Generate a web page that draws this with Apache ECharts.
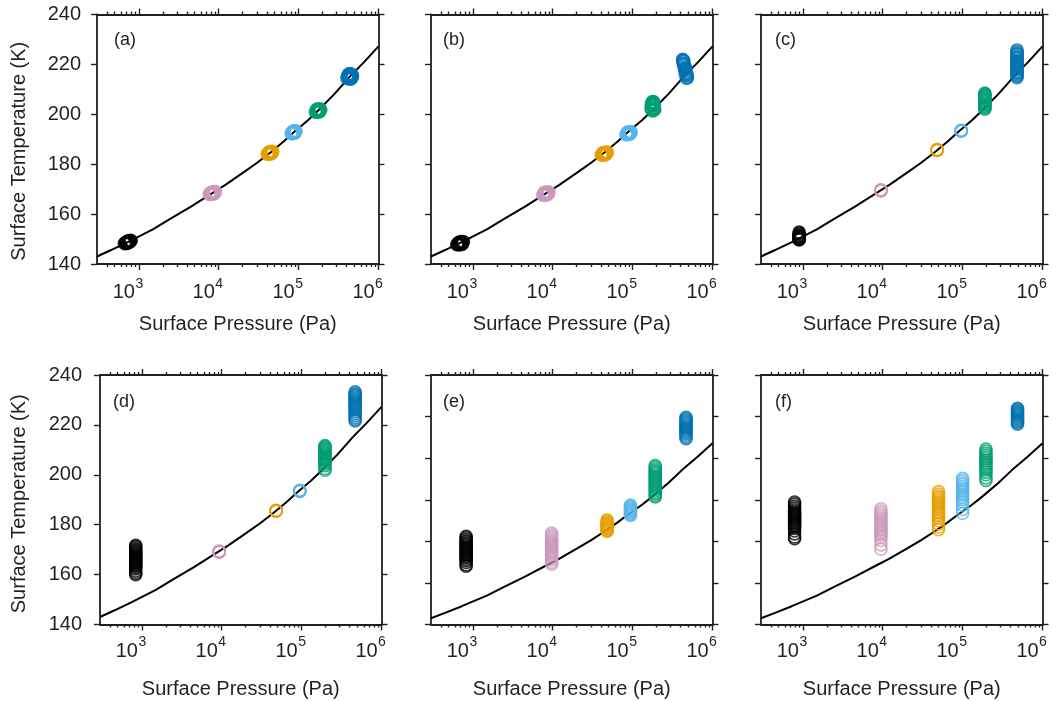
<!DOCTYPE html>
<html>
<head>
<meta charset="utf-8">
<script src="https://cdn.jsdelivr.net/npm/echarts@6/dist/echarts.min.js"></script>
<style>
  html, body { margin: 0; padding: 0; background: #ffffff; }
  #chart { width: 1056px; height: 701px; }
</style>
</head>
<body>
<div id="chart"></div>
<script>
// ---- data -----------------------------------------------------------------
const panelLabels = ['(a)', '(b)', '(c)', '(d)', '(e)', '(f)'];
const clusterColors = ['#000000', '#CC99BB', '#E69F00', '#56B4E9', '#009E73', '#0072B2'];

const pressureMin = 300;
const pressureMax = 1e6;
const majorPressureTicks = [1e3, 1e4, 1e5, 1e6];
const minorPressureTicks = [
  400, 500, 600, 700, 800, 900,
  2e3, 3e3, 4e3, 5e3, 6e3, 7e3, 8e3, 9e3,
  2e4, 3e4, 4e4, 5e4, 6e4, 7e4, 8e4, 9e4,
  2e5, 3e5, 4e5, 5e5, 6e5, 7e5, 8e5, 9e5
];
const temperatureMin = 140;
const temperatureMax = [240, 240, 240, 240, 260, 260];
const temperatureStep = 20;

// reference curve: surface temperature against surface pressure
const curvePressure = [300, 450, 728, 1500, 2500, 4500, 8400, 12000, 20000, 30000, 44000, 65000,
                       87000, 130000, 176000, 280000, 440000, 650000, 1000000];
const curveTemperature = [143.0, 145.6, 148.8, 153.9, 158.2, 163.0, 168.5, 171.6, 176.5, 180.5, 184.6, 189.1,
                          192.8, 197.5, 201.5, 208.1, 215.2, 220.7, 227.2];

// (a) six clusters, each point has its own pressure
const aPressure = [
  [660, 675, 690, 700, 710, 720, 730, 740, 750, 760, 775, 790, 805, 700, 745, 725, 690, 770],
  [7600, 7750, 7900, 8050, 8200, 8350, 8500, 8650, 8800, 8950, 9100, 8100, 8400, 8700, 7900, 8900],
  [40500, 41200, 42000, 42800, 43600, 44400, 45200, 46000, 46800, 47500, 42500, 44000, 45500, 43000, 46000, 44800],
  [80500, 81800, 83200, 84600, 86000, 87400, 88800, 90200, 91600, 93000, 84000, 87000, 90000, 86000, 89500, 82500],
  [162000, 165500, 169000, 172500, 176000, 179500, 183000, 186500, 190000, 170000, 176000, 182000, 174000, 180000, 167000, 185000],
  [402000, 410000, 418000, 426000, 434000, 442000, 450000, 458000, 466000, 474000, 420000, 440000, 460000, 430000, 450000, 415000, 470000, 445000]
];
const aTemperature = [
  [148.2, 148.5, 148.1, 148.8, 148.4, 149.0, 148.6, 149.2, 148.7, 149.3, 148.9, 149.5, 149.3, 148.3, 148.4, 149.2, 148.7, 149.0],
  [167.9, 168.3, 167.9, 168.6, 168.2, 168.8, 168.3, 168.9, 168.5, 169.0, 168.9, 168.0, 168.1, 169.0, 168.5, 168.2],
  [184.0, 184.4, 184.0, 184.6, 184.2, 184.8, 184.4, 185.0, 184.7, 185.2, 184.9, 185.1, 184.1, 184.2, 184.4, 184.3],
  [192.2, 192.6, 192.2, 192.9, 192.5, 193.1, 192.7, 193.3, 193.0, 193.4, 193.1, 193.4, 192.4, 192.3, 192.5, 192.8],
  [200.8, 201.2, 200.8, 201.5, 201.1, 201.7, 201.3, 201.9, 201.8, 202.0, 202.2, 200.9, 200.9, 201.0, 201.9, 202.2],
  [214.4, 215.2, 214.3, 215.6, 214.6, 216.0, 214.8, 215.7, 214.6, 215.3, 216.1, 216.3, 215.9, 214.2, 214.1, 215.5, 215.8, 216.2]
];

// (b)
const bPressure = [
  [630, 645, 660, 675, 690, 705, 720, 735, 750, 765, 660, 700, 740, 680, 720, 700],
  [7500, 7650, 7800, 7950, 8100, 8250, 8400, 8550, 8700, 8850, 9000, 8000, 8300, 8600, 7800, 8800],
  [40500, 41300, 42100, 42900, 43700, 44500, 45300, 46100, 46900, 47700, 48400, 43000, 44500, 46000, 42000, 47000],
  [82500, 84000, 85500, 87000, 88500, 90000, 91500, 93000, 94500, 96000, 86000, 89000, 92000, 85000, 95000, 89500],
  [170000, 174000, 178000, 182000, 186000, 190000, 172000, 176000, 180000, 184000, 188000, 171000, 179000, 187000, 175000, 183000, 180000, 173000, 185000],
  [422000, 428000, 434000, 440000, 446000, 452000, 458000, 464000, 470000, 476000, 482000, 488000, 440000, 430000, 470000, 455000, 480000, 425000, 445000, 465000]
];
const bTemperature = [
  [147.7, 148.1, 147.8, 148.4, 148.0, 148.6, 148.2, 148.8, 148.5, 149.0, 148.6, 149.0, 147.9, 147.6, 147.8, 148.3],
  [167.6, 168.0, 167.6, 168.3, 167.9, 168.5, 168.1, 168.7, 168.3, 168.9, 168.7, 168.8, 167.7, 167.8, 168.6, 168.1],
  [183.6, 184.0, 183.6, 184.3, 183.9, 184.5, 184.1, 184.7, 184.3, 184.9, 184.8, 184.8, 183.7, 183.8, 184.5, 184.1],
  [191.8, 192.3, 191.8, 192.5, 192.1, 192.7, 192.3, 192.9, 192.5, 193.0, 192.9, 193.0, 191.9, 192.0, 192.6, 192.4],
  [202.5, 203.8, 204.8, 204.0, 202.6, 201.8, 201.8, 205.0, 205.1, 205.0, 203.6, 203.5, 201.3, 202.3, 201.5, 204.5, 203.2, 204.4, 201.9],
  [221.8, 221.2, 220.5, 219.9, 219.2, 218.6, 217.9, 217.3, 216.7, 216.0, 215.3, 214.6, 221.4, 220.1, 214.5, 216.2, 215.7, 222.0, 218.0, 218.4]
];

// (c) one pressure per cluster
const cPressure = [900, 9500, 48000, 96000, 190000, 480000];
const cTemperature = [
  [149.6, 149.8, 150.0, 150.2, 150.4, 150.6, 150.8, 151.0, 151.3, 151.6, 152.0, 152.4, 152.8],
  [169.3, 169.4, 169.5, 169.6, 169.7],
  [185.5, 185.6, 185.7, 185.8, 185.9],
  [193.2, 193.3, 193.4, 193.5, 193.6],
  [202.0, 202.3, 202.8, 203.1, 203.6, 203.9, 204.3, 204.8, 205.1, 205.6, 205.9, 206.4, 206.7, 207.2, 207.5, 207.9, 208.2, 208.5],
  [214.7, 215.3, 215.7, 216.3, 216.7, 217.1, 217.8, 218.2, 218.7, 219.3, 219.7, 220.1, 220.8, 221.2, 221.6, 222.3, 222.7, 223.1, 223.8, 224.2, 224.6, 225.2, 225.8]
];

// (d)
const dPressure = [840, 9300, 48000, 95000, 196000, 468000];
const dTemperature = [
  [160.0, 160.6, 161.4, 162.3, 162.9, 163.4, 163.8, 164.2, 164.7, 165.1, 165.4, 165.9, 166.3, 166.6, 167.1, 167.5, 167.8, 168.3, 168.7, 169.1, 169.6, 170.0, 170.6, 171.2, 171.7],
  [169.0, 169.1, 169.2, 169.3, 169.4],
  [185.4, 185.5, 185.6, 185.7, 185.8],
  [193.3, 193.4, 193.5, 193.7, 193.8],
  [201.8, 202.5, 203.6, 204.3, 204.8, 205.4, 205.9, 206.3, 206.8, 207.2, 207.7, 208.1, 208.6, 209.0, 209.5, 209.9, 210.4, 210.8, 211.3, 211.7],
  [221.6, 222.2, 222.9, 223.7, 224.5, 225.3, 226.0, 226.6, 227.1, 227.6, 228.0, 228.5, 229.0, 229.4, 229.9, 230.3, 230.8, 231.3, 231.7, 232.2, 232.7, 233.3]
];

// (e)
const ePressure = [826, 9700, 48000, 94000, 192000, 466000];
const eTemperature = [
  [168.0, 168.7, 169.9, 170.8, 171.4, 172.1, 172.6, 173.2, 173.7, 174.3, 174.8, 175.3, 175.9, 176.4, 177.0, 177.5, 178.1, 178.6, 179.2, 179.8, 180.3, 181.0, 181.7, 182.4],
  [169.0, 169.9, 171.1, 172.0, 172.9, 173.6, 174.3, 175.0, 175.6, 176.3, 176.9, 177.6, 178.2, 178.9, 179.5, 180.2, 180.9, 181.6, 182.4, 183.2, 184.0],
  [184.7, 185.2, 185.7, 186.1, 186.6, 187.0, 187.5, 187.9, 188.4, 188.8, 189.3, 189.8, 190.4],
  [192.4, 192.8, 193.3, 193.7, 194.2, 194.6, 195.1, 195.5, 196.0, 196.5, 197.0, 197.5],
  [201.3, 202.0, 202.8, 203.5, 204.2, 204.9, 205.6, 206.3, 207.0, 207.7, 208.4, 209.1, 209.8, 210.5, 211.2, 211.9, 212.6, 213.3, 214.0, 214.8, 215.6, 216.4],
  [229.4, 230.1, 231.0, 231.8, 232.5, 233.1, 233.7, 234.3, 234.9, 235.5, 236.1, 236.7, 237.3, 237.9, 238.5, 239.1, 239.7]
];

// (f)
const fPressure = [790, 9500, 50000, 100000, 196000, 487000];
const fTemperature = [
  [181.3, 182.1, 183.6, 185.0, 186.2, 187.0, 187.7, 188.3, 188.9, 189.5, 190.1, 190.7, 191.3, 191.9, 192.5, 193.1, 193.7, 194.4, 195.2, 196.1, 197.0, 198.0, 198.9],
  [176.2, 178.3, 180.4, 181.8, 182.9, 183.8, 184.6, 185.4, 186.2, 187.0, 187.8, 188.6, 189.4, 190.2, 191.0, 191.8, 192.7, 193.6, 194.6, 195.7],
  [185.6, 186.9, 188.4, 189.9, 191.1, 192.1, 193.0, 193.8, 194.6, 195.4, 196.2, 197.0, 197.8, 198.6, 199.4, 200.2, 201.0, 201.8, 202.8, 203.9],
  [193.5, 195.3, 197.4, 198.9, 200.0, 201.0, 201.9, 202.8, 203.7, 204.6, 205.5, 206.4, 207.3, 208.2, 209.2, 210.3],
  [209.3, 210.5, 212.1, 213.3, 214.3, 215.2, 216.1, 217.0, 217.9, 218.8, 219.7, 220.6, 221.5, 222.4, 223.4, 224.4],
  [236.3, 236.9, 237.4, 238.0, 238.5, 239.1, 239.6, 240.2, 240.7, 241.3, 241.8, 242.4, 242.9, 243.5, 244.0]
];

const panelPressure = [aPressure, bPressure, cPressure, dPressure, ePressure, fPressure];
const panelTemperature = [aTemperature, bTemperature, cTemperature, dTemperature, eTemperature, fTemperature];

// ---- layout & style --------------------------------------------------------
const FONT = '"Liberation Sans", Arial, Helvetica, sans-serif';
const INK = '#231f20';
const AXIS_W = 1.8;

const gridBoxes = [
  { left: 97,  top: 14.5 }, { left: 431, top: 14.5 }, { left: 761, top: 14.5 },
  { left: 100, top: 375 },  { left: 431, top: 375 },  { left: 761, top: 375 }
];
const labelBoxes = [
  { x: 114, y: 31 }, { x: 443, y: 31 }, { x: 775, y: 31 },
  { x: 113, y: 393 }, { x: 443, y: 393 }, { x: 775, y: 393 }
];

const grid = gridBoxes.map(g => ({ left: g.left, top: g.top, width: 281.5, height: 249.5 }));

// label roles for the stacked bottom axes: the base "10" and its exponent
function baseLabel(i) {
  return {
    show: true,
    customValues: majorPressureTicks,
    margin: i < 3 ? 18 : 17,
    padding: [0, 30, 0, 0],
    formatter: () => '10',
    fontSize: 20, fontFamily: FONT, color: INK
  };
}
function exponentLabel(i) {
  return {
    show: true,
    customValues: majorPressureTicks,
    margin: i < 3 ? 13 : 11,
    padding: [0, 0, 0, 1],
    formatter: v => String(Math.round(Math.log10(v))),
    fontSize: 14, fontFamily: FONT, color: INK
  };
}

function pressureAxis(i, position, ticks, tickLen, withLine, label, withName) {
  return {
    gridIndex: i,
    type: 'log',
    logBase: 10,
    min: pressureMin,
    max: pressureMax,
    position: position,
    splitLine: { show: false },
    axisLine: { show: withLine, onZero: false, lineStyle: { color: INK, width: AXIS_W } },
    axisTick: { show: true, inside: false, length: tickLen, customValues: ticks,
                lineStyle: { color: INK, width: 1.4 } },
    axisLabel: label || { show: false },
    name: withName ? 'Surface Pressure (Pa)' : '',
    nameLocation: 'middle',
    nameGap: i < 3 ? 50 : 55,
    nameTextStyle: { fontSize: 20, fontFamily: FONT, color: INK }
  };
}

function temperatureAxis(i, position, withLabel) {
  return {
    gridIndex: i,
    type: 'value',
    min: temperatureMin,
    max: temperatureMax[i],
    interval: temperatureStep,
    position: position,
    splitLine: { show: false },
    axisLine: { show: true, onZero: false, lineStyle: { color: INK, width: AXIS_W } },
    axisTick: { show: true, inside: false, length: 6, lineStyle: { color: INK, width: 1.4 } },
    axisLabel: { show: withLabel, margin: i < 3 ? 16 : 18, fontSize: 20, fontFamily: FONT, color: INK },
    name: withLabel ? 'Surface Temperature (K)' : '',
    nameLocation: 'middle',
    nameRotate: 90,
    nameGap: i < 3 ? 68 : 71,
    nameTextStyle: { fontSize: 20, fontFamily: FONT, color: INK,
                     padding: i < 3 ? [0, 24, 0, 0] : [0, 8, 0, 0] }
  };
}

const xAxis = [];
const yAxis = [];
const series = [];
const graphic = [];

for (let i = 0; i < 6; i++) {
  // bottom frame edge carries labels; top edge mirrors the ticks
  xAxis.push(pressureAxis(i, 'bottom', majorPressureTicks, 6, true, baseLabel(i), true));
  xAxis.push(pressureAxis(i, 'bottom', minorPressureTicks, 3, false, exponentLabel(i), false));
  xAxis.push(pressureAxis(i, 'top', majorPressureTicks, 6, true, null, false));
  xAxis.push(pressureAxis(i, 'top', minorPressureTicks, 3, false, null, false));
  yAxis.push(temperatureAxis(i, 'left', i % 3 === 0));
  yAxis.push(temperatureAxis(i, 'right', false));

  const xi = 4 * i, yi = 2 * i;

  series.push({
    type: 'line',
    xAxisIndex: xi,
    yAxisIndex: yi,
    data: curvePressure.map((p, k) => [p, curveTemperature[k]]),
    symbol: 'none',
    smooth: false,
    lineStyle: { color: '#000000', width: 2 },
    silent: true,
    z: 2
  });

  const press = panelPressure[i];
  const temps = panelTemperature[i];
  temps.forEach((list, c) => {
    series.push({
      type: 'scatter',
      xAxisIndex: xi,
      yAxisIndex: yi,
      data: list.map((t, k) => [Array.isArray(press[c]) ? press[c][k] : press[c], t]),
      symbol: 'circle',
      symbolSize: 12,
      itemStyle: { color: 'rgba(0,0,0,0)', borderColor: clusterColors[c], borderWidth: 1.6 },
      silent: true,
      z: 3
    });
  });

  graphic.push({
    type: 'text',
    left: labelBoxes[i].x,
    top: labelBoxes[i].y,
    style: { text: panelLabels[i], fontSize: 18, fontFamily: FONT, fill: INK }
  });
}

const chart = echarts.init(document.getElementById('chart'), null, { renderer: 'canvas' });
chart.setOption({
  animation: false,
  backgroundColor: '#ffffff',
  grid: grid,
  xAxis: xAxis,
  yAxis: yAxis,
  series: series,
  graphic: graphic
});
</script>
</body>
</html>
